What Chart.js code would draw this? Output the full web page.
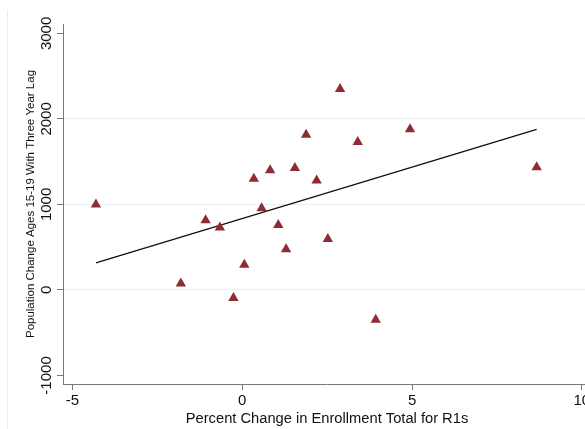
<!DOCTYPE html>
<html>
<head>
<meta charset="utf-8">
<script src="https://cdn.jsdelivr.net/npm/chart.js@4.4.1/dist/chart.umd.min.js"></script>
<style>
  html, body { margin: 0; padding: 0; background: #fff; overflow: hidden; }
  #wrap { position: relative; width: 600px; height: 429px; }
  #frame { position: absolute; left: 7px; top: 10px; height: 419px; border-left: 1px solid #ececec; }
  canvas { position: absolute; left: 0; top: 0; }
</style>
</head>
<body>
<div id="wrap">
  <div id="frame"></div>
  <canvas id="c" width="600" height="429"></canvas>
</div>
<script>
// Percent change in R1 enrollment vs. population change (ages 15-19, 3-year lag)
const enrollChange = [-4.31, -1.81, -1.08, -0.66, -0.26, 0.06, 0.34, 0.57, 0.82, 1.06,
                      1.29, 1.55, 1.88, 2.19, 2.52, 2.88, 3.40, 3.93, 4.94, 8.67];
const popChange    = [1000, 75, 815, 730, -95, 295, 1300, 955, 1400, 760,
                      475, 1425, 1815, 1280, 595, 2350, 1730, -350, 1880, 1435];

// Fitted values at the ends of the data range
const fitX = [-4.31, 8.67];
const fitY = [316, 1878];

const xTicks = [-5, 0, 5, 10];
const yTicks = [-1000, 0, 1000, 2000, 3000];
const yGridValues = [0, 1000, 2000];

const FONT = "'Liberation Sans', Arial, Helvetica, sans-serif";
const AXIS = '#777777';

const points = enrollChange.map((x, i) => ({ x: x, y: popChange[i] }));
const fitLine = fitX.map((x, i) => ({ x: x, y: fitY[i] }));

new Chart(document.getElementById('c'), {
  type: 'scatter',
  data: {
    datasets: [
      {
        type: 'scatter',
        data: points,
        pointStyle: 'triangle',
        pointRadius: 6,
        pointHoverRadius: 6,
        backgroundColor: '#8e2c33',
        borderColor: '#8e2c33',
        borderWidth: 0,
        order: 1
      },
      {
        type: 'line',
        data: fitLine,
        borderColor: '#111111',
        borderWidth: 1.4,
        pointRadius: 0,
        fill: false,
        tension: 0,
        order: 2
      }
    ]
  },
  options: {
    responsive: false,
    animation: false,
    events: [],
    layout: { padding: { top: 24, right: 9, left: 0, bottom: 0 } },
    plugins: { legend: { display: false }, tooltip: { enabled: false } },
    scales: {
      x: {
        type: 'linear',
        min: -5.28,
        max: 10.27,
        afterBuildTicks: s => { s.ticks = xTicks.map(v => ({ value: v })); },
        afterFit: s => { s.height = 45; },
        border: { display: true, color: AXIS, width: 1 },
        grid: { display: true, drawOnChartArea: false, drawTicks: true, tickLength: 6, tickColor: AXIS },
        ticks: {
          color: '#111',
          font: { family: FONT, size: 15 },
          padding: 2,
          maxRotation: 0,
          callback: v => String(v)
        },
        title: {
          display: true,
          text: 'Percent Change in Enrollment Total for R1s',
          color: '#111',
          font: { family: FONT, size: 14.7 },
          padding: { top: 0, bottom: 1 }
        }
      },
      y: {
        type: 'linear',
        min: -1100,
        max: 3110,
        afterBuildTicks: s => { s.ticks = yTicks.map(v => ({ value: v })); },
        afterFit: s => { s.width = 63; },
        border: { display: true, color: AXIS, width: 1 },
        grid: {
          display: true,
          drawTicks: true,
          tickLength: 6,
          tickColor: AXIS,
          lineWidth: 1,
          color: ctx => (ctx.tick && yGridValues.includes(ctx.tick.value)) ? '#e6eff1' : 'rgba(0,0,0,0)'
        },
        ticks: {
          color: '#111',
          font: { family: FONT, size: 15 },
          minRotation: 90,
          maxRotation: 90,
          crossAlign: 'center',
          padding: -9,
          callback: v => String(v)
        },
        title: {
          display: true,
          text: 'Population Change Ages 15-19 With Three Year Lag',
          color: '#111',
          font: { family: FONT, size: 11.5 },
          padding: { top: 24, bottom: 0 }
        }
      }
    }
  }
});
</script>
</body>
</html>
